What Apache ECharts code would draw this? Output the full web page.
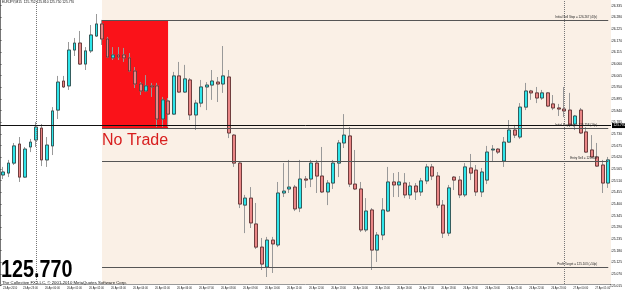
<!DOCTYPE html>
<html>
<head>
<meta charset="utf-8">
<script src="https://cdn.jsdelivr.net/npm/echarts@6/dist/echarts.min.js"></script>
<style>
  html, body { margin: 0; padding: 0; background: #fff; }
  #chart_box { width: 625px; height: 291px; }
</style>
</head>
<body>
<div id="chart_box"></div>
<script>
// EURJPY M15, bars from 23 Apr 22:30 to 27 Apr 02:00
const openList = [125.537,125.546,125.593,125.683,125.527,125.669,125.702,125.758,125.608,125.674,
  125.843,125.980,125.957,126.126,126.159,126.060,126.122,126.192,126.249,126.178,
  126.089,126.103,126.103,126.089,126.027,125.966,125.933,125.957,125.957,125.801,
  125.886,125.824,126.004,125.928,125.985,125.820,125.876,125.952,125.961,125.975,
  125.966,125.999,125.725,125.593,125.395,125.428,125.306,125.197,125.103,125.230,
  125.207,125.452,125.471,125.480,125.381,125.518,125.518,125.593,125.532,125.457,
  125.499,125.593,125.688,125.721,125.494,125.471,125.278,125.372,125.183,125.254,
  125.367,125.504,125.490,125.499,125.443,125.485,125.457,125.509,125.575,125.532,
  125.395,125.263,125.527,125.513,125.443,125.570,125.560,125.457,125.513,125.655,
  125.659,125.603,125.692,125.749,125.716,125.857,125.933,125.924,125.900,125.924,
  125.872,125.853,125.848,125.843,125.777,125.843,125.740,125.655,125.622,125.584,125.499]
const closeList = [125.551,125.593,125.674,125.527,125.659,125.692,125.763,125.608,125.678,125.839,
  125.975,125.952,126.126,126.159,126.060,126.122,126.197,126.249,126.178,126.093,
  126.103,126.093,126.089,126.027,125.966,125.933,125.957,125.952,125.801,125.891,
  125.824,126.004,125.928,125.990,125.820,125.876,125.952,125.961,125.980,125.966,
  126.004,125.735,125.593,125.400,125.428,125.311,125.197,125.117,125.230,125.212,
  125.452,125.461,125.480,125.377,125.518,125.513,125.593,125.532,125.457,125.499,
  125.593,125.688,125.725,125.494,125.471,125.278,125.367,125.183,125.254,125.372,
  125.504,125.490,125.504,125.443,125.485,125.457,125.509,125.575,125.532,125.395,
  125.263,125.476,125.513,125.443,125.575,125.546,125.457,125.551,125.645,125.659,
  125.645,125.692,125.749,125.725,125.857,125.933,125.924,125.900,125.924,125.862,
  125.853,125.848,125.839,125.773,125.815,125.735,125.645,125.622,125.579,125.499,125.608]
const highList = [125.575,125.608,125.688,125.716,125.669,125.707,125.787,125.777,125.716,125.857,
  126.004,126.004,126.164,126.183,126.216,126.140,126.244,126.296,126.268,126.188,
  126.140,126.140,126.136,126.112,126.046,125.975,126.008,125.971,125.971,125.905,
  125.900,126.023,126.070,126.056,125.994,125.891,125.985,125.975,126.032,125.999,
  126.145,126.032,125.730,125.598,125.443,125.480,125.405,125.240,125.245,125.245,
  125.504,125.593,125.608,125.490,125.608,125.532,125.608,125.608,125.669,125.513,
  125.608,125.702,125.824,125.763,125.655,125.504,125.428,125.381,125.268,125.428,
  125.575,125.546,125.551,125.546,125.504,125.499,125.523,125.589,125.589,125.551,
  125.419,125.490,125.532,125.532,125.593,125.636,125.584,125.570,125.674,125.678,
  125.664,125.716,125.796,125.773,125.876,125.971,125.938,125.952,125.938,125.928,
  125.914,125.872,125.952,125.924,125.820,125.853,125.763,125.725,125.688,125.608,125.622]
const lowList = [125.518,125.527,125.584,125.504,125.523,125.645,125.669,125.579,125.575,125.631,
  125.801,125.947,125.938,126.098,126.056,126.032,126.112,126.188,126.150,126.089,
  126.079,126.079,126.070,126.023,125.947,125.914,125.928,125.905,125.763,125.763,
  125.763,125.820,125.924,125.924,125.796,125.749,125.857,125.843,125.891,125.881,
  125.924,125.711,125.575,125.381,125.263,125.287,125.188,125.089,125.056,125.075,
  125.197,125.433,125.452,125.367,125.362,125.476,125.480,125.452,125.452,125.395,
  125.471,125.527,125.664,125.480,125.466,125.268,125.268,125.089,125.127,125.230,
  125.362,125.433,125.433,125.428,125.424,125.419,125.438,125.494,125.513,125.381,
  125.240,125.249,125.466,125.428,125.433,125.513,125.438,125.433,125.494,125.598,
  125.636,125.575,125.688,125.711,125.707,125.843,125.891,125.876,125.891,125.857,
  125.843,125.815,125.810,125.763,125.749,125.730,125.641,125.617,125.575,125.452,125.476]

const titleText = 'EURJPY,M15  125.752 125.810 125.750 125.770'
const copyText = 'The Collective FX LLC, \u00a9 2001-2010 MetaQuotes Software Corp.'
const firstLabel = '23 Apr 2010'
const bidPrice = 125.770
// horizontal trade levels, drawn from the start of the no-trade box to the right
const levelNames = ['Initial Sell Stop = 126.267 (47p)', 'Initial Buy Stop = 125.758 (16p)', 'Entry Sell = 125.603', 'Profit Target = 125.103 (+50p)']
const levelPrices = [126.267, 125.758, 125.603, 125.103]
const boxBars = [18, 30]
const separatorBars = [6, 102]

// category times: 23 Apr 22:30 .. 23:45, then from 26 Apr 00:00 every 15 min
const pad = n => (n < 10 ? '0' : '') + n
const timeList = []
for (let i = 0; i < openList.length; i++) {
  let day, mins
  if (i < 6) { day = 23; mins = 22 * 60 + 30 + i * 15 }
  else { mins = (i - 6) * 15; day = 26 + Math.floor(mins / 1440); mins = mins % 1440 }
  timeList.push(day + ' Apr ' + pad(Math.floor(mins / 60)) + ':' + pad(mins % 60))
}

function showTimeLabel(i) {
  return i === 0 || (i >= 2 && i <= 106 && (i - 2) % 4 === 0)
}

function initChart() {
  const myEcharts = echarts.init(document.getElementById('chart_box'))
  myEcharts.setOption(chartOption())
}

function chartOption() {
  const wickData = [], bodyData = []
  for (let i = 0; i < openList.length; i++) {
    wickData.push([openList[i], closeList[i], lowList[i], highList[i]])
    bodyData.push([openList[i], closeList[i], Math.min(openList[i], closeList[i]), Math.max(openList[i], closeList[i])])
  }
  const font = 'Liberation Sans'
  const lineLabel = {
    show: true, position: 'insideEndTop', distance: [11, 1.5],
    fontSize: 3, color: '#222', fontFamily: font
  }
  const marks = []
  separatorBars.forEach(b => marks.push({
    xAxis: b, lineStyle: { type: 'dotted', color: '#777', width: 1 }, label: { show: false }
  }))
  levelPrices.forEach((p, k) => marks.push([
    { xAxis: boxBars[0], yAxis: p, lineStyle: { type: 'solid', color: '#555', width: 1 },
      label: Object.assign({ formatter: levelNames[k] }, lineLabel) },
    { xAxis: openList.length - 1, yAxis: p }
  ]))
  marks.push({
    yAxis: bidPrice, lineStyle: { type: 'solid', color: '#111', width: 1 },
    label: { show: true, position: 'end', distance: 1, formatter: bidPrice.toFixed(3),
      backgroundColor: '#000', color: '#fff', fontSize: 3.3, padding: [1, 1.5], fontFamily: font }
  })

  return {
    animation: false,
    backgroundColor: '#fff',
    title: [
      { text: titleText, left: 2, top: 1, padding: 0,
        textStyle: { fontSize: 3.3, fontWeight: 'normal', color: '#111', fontFamily: font } },
      { text: copyText, left: 2, top: 281, padding: 0,
        textStyle: { fontSize: 4.3, fontWeight: 'normal', color: '#111', fontFamily: font } }
    ],
    graphic: [{
      type: 'text', x: 1, y: 258.7, scaleX: 0.84, z: 100,
      style: { text: bidPrice.toFixed(3), fontSize: 23.5, fontWeight: 'bold', fontFamily: font,
        fill: '#000', verticalAlign: 'top' }
    }],
    grid: [
      { left: -1, right: 14, top: 0, bottom: 7 },
      { left: -1, right: 14, top: 0, bottom: 5.3 }
    ],
    xAxis: [
      {
        type: 'category', gridIndex: 0, data: timeList, boundaryGap: true,
        axisLine: { show: true, lineStyle: { color: '#999', width: 1 } },
        axisTick: { show: false },
        splitLine: { show: false },
        axisLabel: {
          show: true, interval: showTimeLabel, margin: 3, align: 'left',
          formatter: (v, i) => i === 0 ? '{f|' + firstLabel + '}' : '{t|' + v + '}',
          rich: {
            f: { fontSize: 2.6, color: '#222', fontFamily: font },
            t: { fontSize: 2.6, color: '#222', fontFamily: font, padding: [0, 0, 0, 9] }
          }
        }
      },
      { type: 'value', gridIndex: 1, show: false, min: 0, max: 1 }
    ],
    yAxis: [
      { type: 'value', gridIndex: 0, position: 'right', min: 125.023, max: 126.362, show: false },
      {
        type: 'value', gridIndex: 1, position: 'right', min: 125.015, max: 126.362, interval: 0.055,
        axisLine: { show: true, lineStyle: { color: '#777', width: 1 } },
        axisTick: { show: true, length: 1.5, lineStyle: { color: '#555' } },
        splitLine: { show: false },
        axisLabel: { fontSize: 3.3, margin: 1.5, color: '#111', fontFamily: font, showMaxLabel: false,
          formatter: v => v.toFixed(3) }
      }
    ],
    series: [
      {
        name: 'wick', type: 'candlestick', xAxisIndex: 0, yAxisIndex: 0, data: wickData, barWidth: 3.4,
        itemStyle: { color: 'transparent', color0: 'transparent', borderColor: '#999',
          borderColor0: '#999', borderColorDoji: '#999', borderWidth: 1 },
        markArea: {
          silent: true,
          data: [
            [{ xAxis: boxBars[0], itemStyle: { color: '#faf0e6' }, label: { show: false } }, {}],
            [{ xAxis: boxBars[0], yAxis: levelPrices[0], itemStyle: { color: '#fa1219' },
               label: { show: true, position: 'bottom', distance: 4, formatter: 'No Trade',
                 color: '#d81e1e', fontSize: 16, fontFamily: font } },
             { xAxis: boxBars[1], yAxis: levelPrices[1] }]
          ]
        }
      },
      {
        name: 'body', type: 'candlestick', xAxisIndex: 0, yAxisIndex: 0, data: bodyData, barWidth: 3.4,
        itemStyle: { color: '#2ee6eb', color0: '#ea8686', borderColor: '#2a4444',
          borderColor0: '#5a2a2a', borderColorDoji: '#5a2a2a', borderWidth: 0.8 },
        markLine: { silent: true, symbol: 'none', data: marks }
      }
    ]
  }
}

initChart()
</script>
</body>
</html>
